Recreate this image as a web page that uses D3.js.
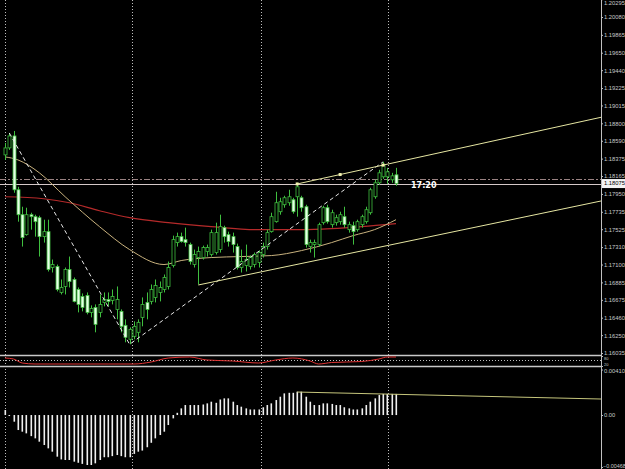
<!DOCTYPE html>
<html>
<head>
<meta charset="utf-8">
<script src="https://cdn.jsdelivr.net/npm/d3@7"></script>
<style>
  body { margin: 0; background: #000; }
  svg { display: block; }
</style>
</head>
<body>
<script>
// candles, oldest first (H1 style bars)
let opens = [1.18420,1.18504,1.18648,1.18000,1.17700,1.17460,1.17700,1.17676,1.17664,1.17436,
  1.17496,1.17064,1.17076,1.16764,1.16836,1.17040,1.16920,1.16800,1.16716,1.16728,
  1.16524,1.16584,1.16524,1.16644,1.16680,1.16668,1.16560,1.16536,1.16368,1.16200,
  1.16236,1.16284,1.16464,1.16644,1.16656,1.16704,1.16764,1.16800,1.16836,1.17088,
  1.17364,1.17436,1.17400,1.17340,1.17100,1.17184,1.17184,1.17256,1.17220,1.17244,
  1.17280,1.17544,1.17460,1.17436,1.17316,1.17064,1.17088,1.17076,1.17100,1.17124,
  1.17220,1.17316,1.17496,1.17616,1.17736,1.17820,1.17844,1.17880,1.17916,1.17904,
  1.17796,1.17316,1.17340,1.17340,1.17604,1.17784,1.17580,1.17604,1.17616,1.17676,
  1.17520,1.17568,1.17520,1.17580,1.17616,1.17724,1.17916,1.18084,1.18156,1.18156,
  1.18120,1.18180]
let highs = [1.18564,1.18684,1.18708,1.18036,1.17796,1.17784,1.17724,1.17700,1.17688,1.17640,
  1.17640,1.17160,1.17100,1.16920,1.17064,1.17196,1.16944,1.16824,1.16752,1.16764,
  1.16608,1.16620,1.16740,1.16764,1.16764,1.16800,1.16836,1.16560,1.16440,1.16344,
  1.16416,1.16440,1.16704,1.16764,1.16860,1.16920,1.16896,1.16980,1.17136,1.17448,
  1.17484,1.17484,1.17544,1.17364,1.17280,1.17316,1.17328,1.17340,1.17520,1.17604,
  1.17700,1.17568,1.17496,1.17484,1.17352,1.17280,1.17340,1.17208,1.17244,1.17268,
  1.17364,1.17520,1.17724,1.17976,1.17904,1.17928,1.18000,1.17904,1.18084,1.17928,
  1.17820,1.17400,1.17400,1.17604,1.17808,1.17820,1.17760,1.17700,1.17736,1.17796,
  1.17616,1.17616,1.17640,1.17700,1.17796,1.18024,1.18120,1.18240,1.18336,1.18264,
  1.18204,1.18264]
let lows = [1.18360,1.18480,1.17964,1.17616,1.17316,1.17448,1.17520,1.17436,1.17196,1.17364,
  1.17016,1.17004,1.16776,1.16740,1.16740,1.16824,1.16644,1.16524,1.16536,1.16500,
  1.16464,1.16284,1.16464,1.16596,1.16596,1.16620,1.16440,1.16284,1.16164,1.16140,
  1.16200,1.16164,1.16356,1.16440,1.16620,1.16644,1.16656,1.16764,1.16800,1.17064,
  1.17316,1.17364,1.17316,1.17100,1.17064,1.16860,1.17160,1.17196,1.17196,1.17220,
  1.17244,1.17364,1.17316,1.17244,1.17040,1.17004,1.17016,1.17040,1.17064,1.17064,
  1.17184,1.17280,1.17484,1.17604,1.17700,1.17784,1.17808,1.17712,1.17676,1.17736,
  1.17304,1.17244,1.17184,1.17316,1.17580,1.17592,1.17544,1.17568,1.17580,1.17544,
  1.17484,1.17340,1.17496,1.17544,1.17592,1.17700,1.17892,1.18060,1.18132,1.18072,
  1.18084,1.18048]
let closes = [1.18504,1.18648,1.18000,1.17700,1.17424,1.17700,1.17676,1.17616,1.17436,1.17496,
  1.17040,1.17100,1.16800,1.16824,1.17040,1.16896,1.16656,1.16620,1.16584,1.16524,
  1.16572,1.16380,1.16620,1.16680,1.16656,1.16716,1.16680,1.16356,1.16224,1.16320,
  1.16356,1.16404,1.16620,1.16560,1.16800,1.16848,1.16824,1.16944,1.17064,1.17400,
  1.17436,1.17376,1.17364,1.17136,1.17220,1.17256,1.17304,1.17304,1.17484,1.17484,
  1.17556,1.17436,1.17376,1.17340,1.17064,1.17136,1.17160,1.17184,1.17220,1.17244,
  1.17316,1.17484,1.17676,1.17844,1.17856,1.17904,1.17916,1.17736,1.18036,1.17784,
  1.17340,1.17364,1.17364,1.17580,1.17784,1.17616,1.17724,1.17664,1.17700,1.17580,
  1.17580,1.17496,1.17616,1.17676,1.17760,1.18000,1.18084,1.18204,1.18300,1.18216,
  1.18168,1.18075]

// moving averages (bar index, price)
let slowMaIdx = [0, 9, 15, 22, 29, 38, 48, 59, 69, 76, 83, 91]
let slowMa = [1.17916, 1.17892, 1.17844, 1.17748, 1.17664, 1.17604, 1.17556, 1.17520, 1.17520, 1.17532, 1.17556, 1.17592]
let fastMaIdx = [0, 3, 8, 14, 22, 29, 37, 41, 48, 55, 62, 69, 76, 81, 86, 91]
let fastMa = [1.18396, 1.18360, 1.18204, 1.17916, 1.17556, 1.17280, 1.17100, 1.17148, 1.17184, 1.17196, 1.17208, 1.17268, 1.17364, 1.17448, 1.17520, 1.17640]

// oscillator window
let oscIdx = [0, 2, 4, 7, 24, 30, 34, 38, 43, 47, 53, 59, 63, 67, 71, 73, 76, 83, 87, 89, 91]
let osc = [68, 62, 38, 32, 32, 32, 44, 68, 74, 56, 50, 38, 56, 68, 50, 32, 41, 47, 62, 74, 74]

// macd histogram
let macd = [0.00045,0.00000,-0.00060,-0.00135,-0.00150,-0.00165,-0.00190,-0.00210,-0.00240,-0.00270,
  -0.00300,-0.00330,-0.00375,-0.00400,-0.00405,-0.00405,-0.00420,-0.00430,-0.00440,-0.00450,
  -0.00450,-0.00435,-0.00405,-0.00380,-0.00380,-0.00370,-0.00360,-0.00370,-0.00380,-0.00380,
  -0.00350,-0.00330,-0.00320,-0.00290,-0.00250,-0.00210,-0.00180,-0.00150,-0.00090,-0.00030,
  0.00020,0.00060,0.00090,0.00090,0.00090,0.00090,0.00095,0.00105,0.00120,0.00110,
  0.00140,0.00150,0.00150,0.00120,0.00090,0.00075,0.00060,0.00050,0.00050,0.00050,
  0.00070,0.00090,0.00105,0.00135,0.00165,0.00195,0.00200,0.00200,0.00210,0.00210,
  0.00165,0.00120,0.00090,0.00090,0.00105,0.00105,0.00100,0.00090,0.00090,0.00070,
  0.00060,0.00050,0.00050,0.00060,0.00090,0.00120,0.00150,0.00180,0.00190,0.00190,
  0.00190,0.00190]

// axis labels
let priceTicks = [1.20295,1.20080,1.19865,1.19650,1.19440,1.19225,1.19015,1.18800,1.18590,1.18375,
  1.18165,1.17950,1.17735,1.17525,1.17310,1.17100,1.16885,1.16675,1.16460,1.16250,1.16035]
let macdTicks = [0.00410, 0, -0.00468]
let oscTicks = [80, 20]
let gridIdx = [0, 29.5, 59.5, 89.2]

// drawn objects
let bid = 1.18075
let dashDotLevel = 1.18132
let upperChannel = [[68, 1.18070], [139, 1.18876]]
let lowerChannel = [[45, 1.16854], [139, 1.17868]]
let channelMarks = [68, 78, 88]
let macdTrend = [[68, 0.00207], [139, 0.00144]]

let width = 625
let height = 469
let axisX = 601

const svg = d3.select("body").append("svg")
  .attr("width", width)
  .attr("height", height)
  .style("background", "#000")
  .style("font-family", "DejaVu Sans, sans-serif")

const clip = svg.append("clipPath").attr("id", "plot")
clip.append("rect").attr("x", 0).attr("y", 0).attr("width", axisX).attr("height", 355)
const clipM = svg.append("clipPath").attr("id", "plotm")
clipM.append("rect").attr("x", 0).attr("y", 367).attr("width", axisX).attr("height", 102)

var x = d3.scaleLinear().domain([0, 91]).range([5, 396])
var y = d3.scaleLinear().domain([1.16035, 1.20080]).range([353, 17])
var yo = d3.scaleLinear().domain([20, 80]).range([366, 356])
var ym = d3.scaleLinear().domain([-0.00468, 0.00410]).range([467, 369.5])

let candles = opens.map((o, i) => ({ i: i, o: o, h: highs[i], l: lows[i], c: closes[i] }))

// vertical grid
svg.append("g").selectAll("line")
  .data(gridIdx)
  .join("line")
  .attr("x1", d => Math.round(x(d)) + 0.5)
  .attr("x2", d => Math.round(x(d)) + 0.5)
  .attr("y1", 0).attr("y2", height)
  .attr("stroke", "#bdbdbd")
  .attr("stroke-dasharray", "1,2")

// window separators
svg.append("line").attr("x1", 0).attr("x2", width).attr("y1", 355.5).attr("y2", 355.5)
  .attr("stroke", "#c8c8c8").attr("stroke-width", 1.3)
svg.append("line").attr("x1", 0).attr("x2", axisX).attr("y1", 360.5).attr("y2", 360.5)
  .attr("stroke", "#c0c0c0").attr("stroke-dasharray", "1,2")
svg.append("line").attr("x1", 0).attr("x2", width).attr("y1", 366.5).attr("y2", 366.5)
  .attr("stroke", "#c8c8c8").attr("stroke-width", 1.3)

const main = svg.append("g").attr("clip-path", "url(#plot)")

// horizontal levels
main.append("line")
  .attr("x1", 0).attr("x2", axisX)
  .attr("y1", Math.round(y(dashDotLevel)) + 0.5).attr("y2", Math.round(y(dashDotLevel)) + 0.5)
  .attr("stroke", "#9a8282").attr("stroke-dasharray", "6,2,2,2")
main.append("line")
  .attr("x1", 0).attr("x2", axisX)
  .attr("y1", Math.round(y(bid)) + 0.5).attr("y2", Math.round(y(bid)) + 0.5)
  .attr("stroke", "#d4c8c8")

// moving averages
main.append("path")
  .datum(slowMaIdx.map((d, k) => [d, slowMa[k]]))
  .attr("fill", "none").attr("stroke", "#b52a2a").attr("stroke-width", 1.2)
  .attr("d", d3.line().x(d => x(d[0])).y(d => y(d[1])).curve(d3.curveMonotoneX))
main.append("path")
  .datum(fastMaIdx.map((d, k) => [d, fastMa[k]]))
  .attr("fill", "none").attr("stroke", "#c9b27e").attr("stroke-width", 1)
  .attr("d", d3.line().x(d => x(d[0])).y(d => y(d[1])).curve(d3.curveMonotoneX))

// candles
const cg = main.append("g")
cg.selectAll("line")
  .data(candles)
  .join("line")
  .attr("x1", d => Math.round(x(d.i)) + 0.5)
  .attr("x2", d => Math.round(x(d.i)) + 0.5)
  .attr("y1", d => y(d.h))
  .attr("y2", d => y(d.l))
  .attr("stroke", "#3fbf3f")
cg.selectAll("rect")
  .data(candles)
  .join("rect")
  .attr("x", d => Math.round(x(d.i)) - 1)
  .attr("y", d => y(Math.max(d.o, d.c)))
  .attr("width", 3)
  .attr("height", d => Math.max(1, Math.abs(y(d.o) - y(d.c))))
  .attr("fill", d => d.c < d.o ? "#e6ffe6" : "#000")
  .attr("stroke", "#3fbf3f")
  .attr("stroke-width", 0.8)

// dashed swing lines
let swing = [[1, candles[1].h], [29, candles[29].l], [88, candles[88].h]]
main.append("path")
  .datum(swing)
  .attr("fill", "none").attr("stroke", "#e8e8e8")
  .attr("stroke-dasharray", "4,3")
  .attr("d", d3.line().x(d => x(d[0])).y(d => y(d[1])))

// channel
main.selectAll(".chan")
  .data([upperChannel, lowerChannel])
  .join("path")
  .attr("class", "chan")
  .attr("fill", "none").attr("stroke", "#e6e6a2")
  .attr("d", d3.line().x(d => x(d[0])).y(d => y(d[1])))
let chanSlope = (upperChannel[1][1] - upperChannel[0][1]) / (upperChannel[1][0] - upperChannel[0][0])
main.selectAll(".mark")
  .data(channelMarks)
  .join("rect")
  .attr("class", "mark")
  .attr("x", d => x(d) - 1.5)
  .attr("y", d => y(upperChannel[0][1] + (d - upperChannel[0][0]) * chanSlope) - 1.5)
  .attr("width", 3).attr("height", 3)
  .attr("fill", "#f4f4b0")

// time label
svg.append("text")
  .attr("x", 411).attr("y", 188)
  .attr("fill", "#fff")
  .attr("font-size", 8).attr("font-weight", "bold")
  .text("17:20")

// oscillator
svg.append("path")
  .datum(oscIdx.map((d, k) => [d, osc[k]]))
  .attr("fill", "none").attr("stroke", "#e03434").attr("stroke-width", 1)
  .attr("d", d3.line().x(d => x(d[0])).y(d => yo(d[1])).curve(d3.curveMonotoneX))

// macd
const mg = svg.append("g").attr("clip-path", "url(#plotm)")
mg.selectAll("rect")
  .data(macd)
  .join("rect")
  .attr("x", (d, i) => Math.round(x(i)) - 0.5)
  .attr("y", d => Math.min(ym(d), ym(0)))
  .attr("width", 1.6)
  .attr("height", d => Math.max(1, Math.abs(ym(d) - ym(0))))
  .attr("fill", "#f0f0f0")
mg.append("path")
  .datum(macdTrend)
  .attr("fill", "none").attr("stroke", "#c6c67c")
  .attr("d", d3.line().x(d => x(d[0])).y(d => ym(d[1])))

// right axis
svg.append("rect").attr("x", axisX).attr("y", 0).attr("width", width - axisX).attr("height", height).attr("fill", "#000")

function styleAxis(g) {
  g.select(".domain").remove()
  g.selectAll(".tick line").attr("stroke", "#c0c0c0")
  g.selectAll(".tick text")
    .attr("fill", "#c8c8c8")
    .attr("font-family", "Liberation Sans, Arial, sans-serif")
    .attr("font-size", 5.8)
    .attr("x", 3)
}

svg.append("g")
  .attr("transform", `translate(${axisX},0)`)
  .call(d3.axisRight(y).tickValues(priceTicks).tickSize(2).tickFormat(d3.format(".5f")))
  .call(styleAxis)
  .call(g => g.selectAll(".tick").filter(d => d > 1.2025).select("text").attr("dy", "0.9em"))

svg.append("g")
  .attr("transform", `translate(${axisX},0)`)
  .call(d3.axisRight(ym).tickValues(macdTicks).tickSize(2)
    .tickFormat(d => d === 0 ? "0.00" : d3.format(".5f")(d)))
  .call(styleAxis)
  .call(g => g.selectAll(".tick text")
    .attr("font-size", d => d < 0 ? 5.4 : 5.8)
    .attr("x", d => d < 0 ? 2 : 3)
    .attr("dy", d => d > 0 ? "0.6em" : (d < 0 ? "0.05em" : "0.32em")))

svg.append("g")
  .attr("transform", `translate(${axisX},0)`)
  .call(d3.axisRight(yo).tickValues(oscTicks).tickSize(2))
  .call(styleAxis)
  .call(g => g.selectAll(".tick text")
    .attr("font-size", 4)
    .attr("dy", d => d > 50 ? "0.9em" : "-0.2em"))

svg.append("line").attr("x1", axisX + 0.5).attr("x2", axisX + 0.5).attr("y1", 0).attr("y2", height)
  .attr("stroke", "#c0c0c0")

// bid price box
svg.append("rect")
  .attr("x", axisX + 1).attr("y", y(bid) - 4.5)
  .attr("width", width - axisX - 1).attr("height", 9)
  .attr("fill", "#f4f4f4")
svg.append("text")
  .attr("x", axisX + 3).attr("y", y(bid))
  .attr("dy", "0.32em")
  .attr("fill", "#000")
  .attr("font-family", "Liberation Sans, Arial, sans-serif")
  .attr("font-size", 5.8)
  .text(d3.format(".5f")(bid))
</script>
</body>
</html>
